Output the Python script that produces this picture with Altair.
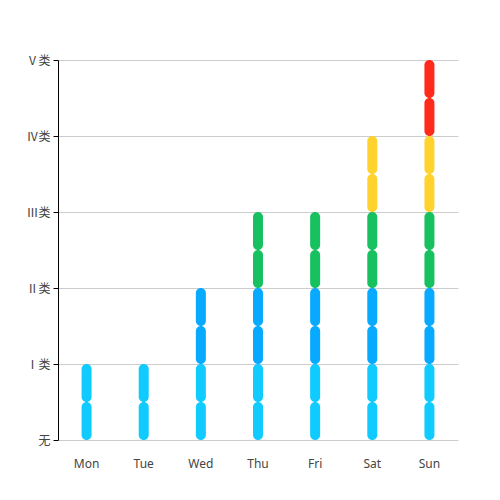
import pandas as pd
import altair as alt

days = ['Mon', 'Tue', 'Wed', 'Thu', 'Fri', 'Sat', 'Sun']
levels = [1, 1, 2, 3, 3, 4, 5]
level_labels = ['无', 'Ⅰ类', 'Ⅱ类', 'Ⅲ类', 'Ⅳ类', 'Ⅴ类']
level_colors = ['#10cbff', '#08aaff', '#17c15f', '#ffd22e', '#ff2a1c']

# each level is drawn as two stacked half segments
rows = []
for day, lv in zip(days, levels):
    for i in range(1, lv + 1):
        for half in (0, 1):
            rows.append({'day': day, 'level': i,
                         'y0': i - 1 + half * 0.5, 'y1': i - 0.5 + half * 0.5})
df = pd.DataFrame(rows)

label_expr = '[' + ','.join("'%s'" % s for s in level_labels) + '][datum.value]'

chart = alt.Chart(df).mark_bar(size=10, cornerRadius=5).encode(
    x=alt.X('day:N', sort=days, title=None,
            scale=alt.Scale(paddingInner=0, paddingOuter=0),
            axis=alt.Axis(labelAngle=0, domain=False, ticks=False, labelPadding=18,
                          labelFontSize=12, labelColor='#444', labelFont='Noto Sans')),
    y=alt.Y('y0:Q', title=None, scale=alt.Scale(domain=[0, 5], nice=False),
            axis=alt.Axis(values=list(range(6)), labelExpr=label_expr, domainColor='#000',
                          tickColor='#000', tickSize=5, labelPadding=3,
                          labelFontSize=12, labelColor='#444', labelFont='Noto Sans CJK SC',
                          gridColor='#cccccc')),
    y2='y1:Q',
    color=alt.Color('level:O', legend=None,
                    scale=alt.Scale(domain=[1, 2, 3, 4, 5], range=level_colors)),
).properties(
    width=400, height=380,
    autosize=alt.AutoSizeParams(type='none'),
    padding={'left': 50, 'top': 52, 'right': 20, 'bottom': 40},
).configure_view(stroke=None)

chart.save("out.html", embed_options={"renderer": "svg", "actions": False})
